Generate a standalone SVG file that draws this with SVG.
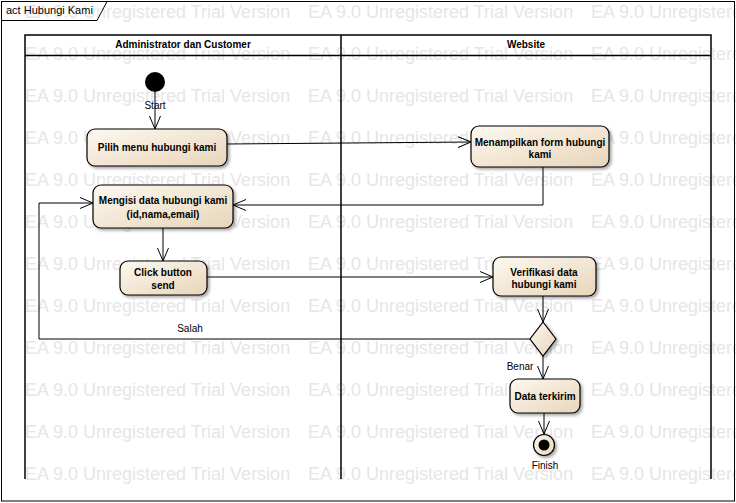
<svg xmlns="http://www.w3.org/2000/svg" width="736" height="503" viewBox="0 0 736 503">
<style>
.wm{font-family:"Liberation Sans",Arial,sans-serif;font-size:18px;fill:#e6e6e6}
.lbl{font-family:"Liberation Sans",Arial,sans-serif;font-size:10px;fill:#000}
.nt{font-family:"Liberation Sans",Arial,sans-serif;font-size:10px;font-weight:bold;fill:#000;text-anchor:middle}
.node{fill:url(#g);stroke:#000;stroke-width:1.2;filter:url(#sh)}
.lane{fill:none;stroke:#000;stroke-width:1.5}
.conn path{fill:none;stroke:#000;stroke-width:1;marker-end:url(#arr)}
</style>
<defs>
<linearGradient id="g" x1="0" y1="0" x2="1" y2="1">
<stop offset="0" stop-color="#fdf8f0"/>
<stop offset="1" stop-color="#e8d5b9"/>
</linearGradient>
<filter id="sh" x="-20%" y="-20%" width="140%" height="150%">
<feDropShadow dx="2" dy="2" stdDeviation="1.5" flood-color="#000" flood-opacity="0.35"/>
</filter>
<marker id="arr" viewBox="0 0 14 12" refX="13" refY="6" markerWidth="14" markerHeight="12" markerUnits="userSpaceOnUse" orient="auto">
<path d="M0,0.5 L13,6 L0,11.5" fill="none" stroke="#000" stroke-width="1"/>
</marker>
</defs>
<rect width="736" height="503" fill="#fff"/>
<g id="watermark">
<text class="wm" x="25" y="18">EA 9.0 Unregistered Trial Version</text><text class="wm" x="308" y="18">EA 9.0 Unregistered Trial Version</text><text class="wm" x="591" y="18">EA 9.0 Unregistered Trial Version</text>
<text class="wm" x="25" y="60">EA 9.0 Unregistered Trial Version</text><text class="wm" x="308" y="60">EA 9.0 Unregistered Trial Version</text><text class="wm" x="591" y="60">EA 9.0 Unregistered Trial Version</text>
<text class="wm" x="25" y="102">EA 9.0 Unregistered Trial Version</text><text class="wm" x="308" y="102">EA 9.0 Unregistered Trial Version</text><text class="wm" x="591" y="102">EA 9.0 Unregistered Trial Version</text>
<text class="wm" x="25" y="144">EA 9.0 Unregistered Trial Version</text><text class="wm" x="308" y="144">EA 9.0 Unregistered Trial Version</text><text class="wm" x="591" y="144">EA 9.0 Unregistered Trial Version</text>
<text class="wm" x="25" y="186">EA 9.0 Unregistered Trial Version</text><text class="wm" x="308" y="186">EA 9.0 Unregistered Trial Version</text><text class="wm" x="591" y="186">EA 9.0 Unregistered Trial Version</text>
<text class="wm" x="25" y="228">EA 9.0 Unregistered Trial Version</text><text class="wm" x="308" y="228">EA 9.0 Unregistered Trial Version</text><text class="wm" x="591" y="228">EA 9.0 Unregistered Trial Version</text>
<text class="wm" x="25" y="270">EA 9.0 Unregistered Trial Version</text><text class="wm" x="308" y="270">EA 9.0 Unregistered Trial Version</text><text class="wm" x="591" y="270">EA 9.0 Unregistered Trial Version</text>
<text class="wm" x="25" y="312">EA 9.0 Unregistered Trial Version</text><text class="wm" x="308" y="312">EA 9.0 Unregistered Trial Version</text><text class="wm" x="591" y="312">EA 9.0 Unregistered Trial Version</text>
<text class="wm" x="25" y="354">EA 9.0 Unregistered Trial Version</text><text class="wm" x="308" y="354">EA 9.0 Unregistered Trial Version</text><text class="wm" x="591" y="354">EA 9.0 Unregistered Trial Version</text>
<text class="wm" x="25" y="396">EA 9.0 Unregistered Trial Version</text><text class="wm" x="308" y="396">EA 9.0 Unregistered Trial Version</text><text class="wm" x="591" y="396">EA 9.0 Unregistered Trial Version</text>
<text class="wm" x="25" y="438">EA 9.0 Unregistered Trial Version</text><text class="wm" x="308" y="438">EA 9.0 Unregistered Trial Version</text><text class="wm" x="591" y="438">EA 9.0 Unregistered Trial Version</text>
<text class="wm" x="25" y="480">EA 9.0 Unregistered Trial Version</text><text class="wm" x="308" y="480">EA 9.0 Unregistered Trial Version</text><text class="wm" x="591" y="480">EA 9.0 Unregistered Trial Version</text>
</g>
<g id="frame">
<rect x="1.5" y="1.5" width="733" height="499.5" fill="none" stroke="#000" stroke-width="1"/>
<path d="M1.5,20.5 H97 L107,1.5" fill="none" stroke="#000" stroke-width="1"/>
<text class="lbl" x="6" y="14" style="font-size:11px">act Hubungi Kami</text>
</g>
<g id="lanes">
<path class="lane" d="M25,479 V35 H711 V479 M341,35 V479 M25,55.5 H711"/>
<text class="nt" x="183" y="48">Administrator dan Customer</text>
<text class="nt" x="526" y="48">Website</text>
</g>
<g class="conn" id="connectors">
<path d="M155,92 V129"/>
<path d="M227,144 L471,142"/>
<path d="M543,167 V205 H233"/>
<path d="M163,228 V261"/>
<path d="M207,277 H493"/>
<path d="M543,296 V322"/>
<path d="M530,339 H39 V203 H93"/>
<path d="M543,356 V379"/>
<path d="M544,413 V434"/>
<text class="lbl" x="190" y="332" text-anchor="middle">Salah</text>
<text class="lbl" x="520" y="370" text-anchor="middle">Benar</text>
</g>
<g id="start">
<circle cx="155" cy="82" r="10" fill="#000"/>
<text class="lbl" x="155" y="109" text-anchor="middle">Start</text>
</g>
<g id="pilih">
<rect class="node" x="87" y="129" width="140" height="37" rx="8"/>
<text class="nt" x="157" y="151">Pilih menu hubungi kami</text>
</g>
<g id="mengisi">
<rect class="node" x="93" y="185" width="140" height="43" rx="8"/>
<text class="nt" x="163" y="204">Mengisi data hubungi kami</text>
<text class="nt" x="163" y="218">(id,nama,email)</text>
</g>
<g id="menampilkan">
<rect class="node" x="471" y="126" width="138" height="41" rx="8"/>
<text class="nt" x="540" y="146">Menampilkan form hubungi</text>
<text class="nt" x="540" y="158">kami</text>
</g>
<g id="click">
<rect class="node" x="120" y="261" width="87" height="34" rx="8"/>
<text class="nt" x="163" y="276">Click button</text>
<text class="nt" x="163" y="289">send</text>
</g>
<g id="verifikasi">
<rect class="node" x="493" y="257" width="103" height="39" rx="8"/>
<text class="nt" x="544" y="276">Verifikasi data</text>
<text class="nt" x="544" y="288">hubungi kami</text>
</g>
<g id="decision">
<path class="node" d="M543,322 L556,339 L543,356 L530,339 Z"/>
</g>
<g id="terkirim">
<rect class="node" x="510" y="379" width="70" height="34" rx="8"/>
<text class="nt" x="545" y="400">Data terkirim</text>
</g>
<g id="finish">
<circle cx="544" cy="445" r="10.5" fill="url(#g)" stroke="#000" stroke-width="1.2" filter="url(#sh)"/>
<circle cx="544" cy="445" r="5.5" fill="#000"/>
<text class="lbl" x="545" y="469" text-anchor="middle">Finish</text>
</g>
</svg>
